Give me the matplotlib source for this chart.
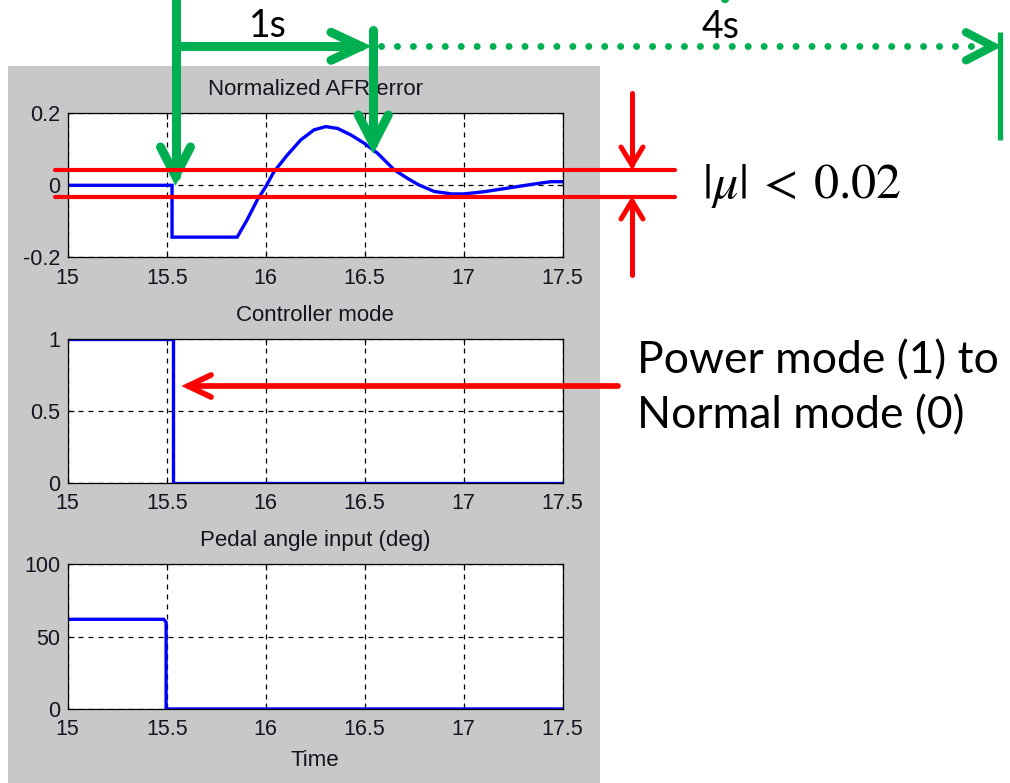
import numpy as np
import matplotlib
matplotlib.use('Agg')
import matplotlib.pyplot as plt
from matplotlib.patches import Rectangle, Circle

plt.rcParams['mathtext.fontset'] = 'stix'
plt.rcParams['axes.unicode_minus'] = False

# ---------------- data ----------------
time_afr = [15.0, 15.527, 15.527, 15.856, 15.906, 15.957, 16.0, 16.042, 16.109,
            16.177, 16.244, 16.303, 16.363, 16.43, 16.497, 16.565, 16.649, 16.72,
            16.77, 16.85, 16.94, 17.0, 17.1, 17.22, 17.36, 17.44, 17.5]
afr_error = [0.0, 0.0, -0.144, -0.144, -0.096, -0.041, -0.004, 0.038, 0.084,
             0.126, 0.154, 0.163, 0.158, 0.140, 0.117, 0.089, 0.043, 0.018,
             0.002, -0.017, -0.024, -0.024, -0.018, -0.008, 0.004, 0.010, 0.010]

time_mode = [15.0, 15.532, 15.532, 17.5]
controller_mode = [1, 1, 0, 0]

time_pedal = [15.0, 15.485, 15.497, 15.497, 17.5]
pedal_angle = [62, 62, 60, 0, 0]

x_ticks = [15, 15.5, 16, 16.5, 17, 17.5]
x_tick_labels = ['15', '15.5', '16', '16.5', '17', '17.5']
afr_ticks = [-0.2, 0, 0.2]
afr_tick_labels = ['-0.2', '0', '0.2']
mode_ticks = [0, 0.5, 1]
mode_tick_labels = ['0', '0.5', '1']
pedal_ticks = [0, 50, 100]
pedal_tick_labels = ['0', '50', '100']
titles = ['Normalized AFR error', 'Controller mode', 'Pedal angle input (deg)']
x_label = 'Time'

# ---------------- figure ----------------
W, H = 1010, 783
fig = plt.figure(figsize=(W / 100, H / 100), dpi=100, facecolor='white')


def px_rect(l, t, r, b):
    return [l / W, (H - b) / H, (r - l) / W, (b - t) / H]


bg = fig.add_axes([0, 0, 1, 1], zorder=0)
bg.set_xlim(0, W)
bg.set_ylim(H, 0)
bg.axis('off')
bg.add_patch(Rectangle((8, 66), 592, 717, facecolor='#c8c8c8', edgecolor='none'))

boxes = [(67.7, 113.3, 562.7, 257.3), (67.7, 339.3, 562.7, 482.7), (67.7, 564.3, 562.7, 709)]
series = [(time_afr, afr_error, (-0.2, 0.2), afr_ticks, afr_tick_labels),
          (time_mode, controller_mode, (0, 1), mode_ticks, mode_tick_labels),
          (time_pedal, pedal_angle, (0, 100), pedal_ticks, pedal_tick_labels)]

TXT = '#141420'
FONT = 'Liberation Sans'
for i, (box, (tx, ty, ylim, yt, ytl)) in enumerate(zip(boxes, series)):
    ax = fig.add_axes(px_rect(*box), zorder=1)
    ax.set_facecolor('white')
    ax.plot(tx, ty, color='#0000ff', lw=2.4, solid_joinstyle='miter')
    ax.set_xlim(15, 17.5)
    ax.set_ylim(*ylim)
    ax.set_xticks(x_ticks)
    ax.set_xticklabels(x_tick_labels, family=FONT)
    ax.set_yticks(yt)
    ax.set_yticklabels(ytl, family=FONT)
    ax.grid(True, color='black', lw=0.9, linestyle=(0, (4, 4)))
    ax.tick_params(direction='in', length=4, width=0.8, top=True, right=True,
                   labelsize=15.5, colors='black', labelcolor=TXT)
    ax.tick_params(axis='x', pad=7.5)
    ax.tick_params(axis='y', pad=5.5)
    for s in ax.spines.values():
        s.set_linewidth(0.9)
        s.set_color('black')
    ax.set_title(titles[i], fontsize=16, family=FONT, color=TXT, pad=13)
    if i == 2:
        ax.set_xlabel(x_label, fontsize=16, family=FONT, color=TXT, labelpad=7)

# ---------------- annotation overlay ----------------
ov = fig.add_axes([0, 0, 1, 1], zorder=5)
ov.set_xlim(0, W)
ov.set_ylim(H, 0)
ov.axis('off')
ov.patch.set_visible(False)

GREEN = '#00b050'
RED = '#ff0000'


def arrow(x0, y0, x1, y1, color, lw, back, half):
    ov.plot([x0, x1], [y0, y1], color=color, lw=lw, solid_capstyle='round')
    d = np.array([x1 - x0, y1 - y0], dtype=float)
    d /= np.hypot(*d)
    n = np.array([-d[1], d[0]])
    tip = np.array([x1, y1], dtype=float)
    base = tip - back * d
    pts = np.array([base + half * n, tip, base - half * n])
    ov.plot(pts[:, 0], pts[:, 1], color=color, lw=lw,
            solid_capstyle='round', solid_joinstyle='miter')


# green timing arrows
arrow(175.5, -10, 175.5, 176, GREEN, 6.5, 29, 15)
arrow(175.5, 46.3, 361, 46.3, GREEN, 6.5, 30, 14)
arrow(373.3, 30, 373.3, 144, GREEN, 6.5, 29, 15)
ov.plot([381, 972], [46.3, 46.3], color=GREEN, lw=5,
        linestyle=(0, (0.01, 16 / 7.0)), dash_capstyle='round')
tip = np.array([993, 46.3])
ov.plot([tip[0] - 27, tip[0], tip[0] - 27], [tip[1] - 14, tip[1], tip[1] + 14],
        color=GREEN, lw=6, solid_capstyle='round', solid_joinstyle='miter')
ov.plot([1000, 1000], [32, 140], color=GREEN, lw=3.8, solid_capstyle='butt')
ov.add_patch(Circle((725, -1), 3.5, color=GREEN))

ov.text(268, 37, '1s', fontsize=27, family='Lato', ha='center', va='baseline', color='black')
ov.text(721, 38, '4s', fontsize=27, family='Lato', ha='center', va='baseline', color='black')

# red tolerance band
for yy in (170, 196.7):
    ov.plot([55, 675], [yy, yy], color=RED, lw=3, solid_capstyle='round')
arrow(632, 93, 632, 165, RED, 3.6, 18, 11)
arrow(632, 275, 632, 201, RED, 3.6, 18, 11)
ov.text(702, 186, r'$|\mu|\:<\:0.02$', fontsize=36, ha='left', va='center', color='black')

# mode switch arrow
arrow(618, 386, 188, 386, RED, 4.1, 23, 11)
ov.text(637, 373, 'Power mode (1) to', fontsize=32, family='Lato', va='baseline', color='black')
ov.text(637, 428, 'Normal mode (0)', fontsize=32, family='Lato', va='baseline', color='black')

fig.savefig('out.png', dpi=100, facecolor='white')
